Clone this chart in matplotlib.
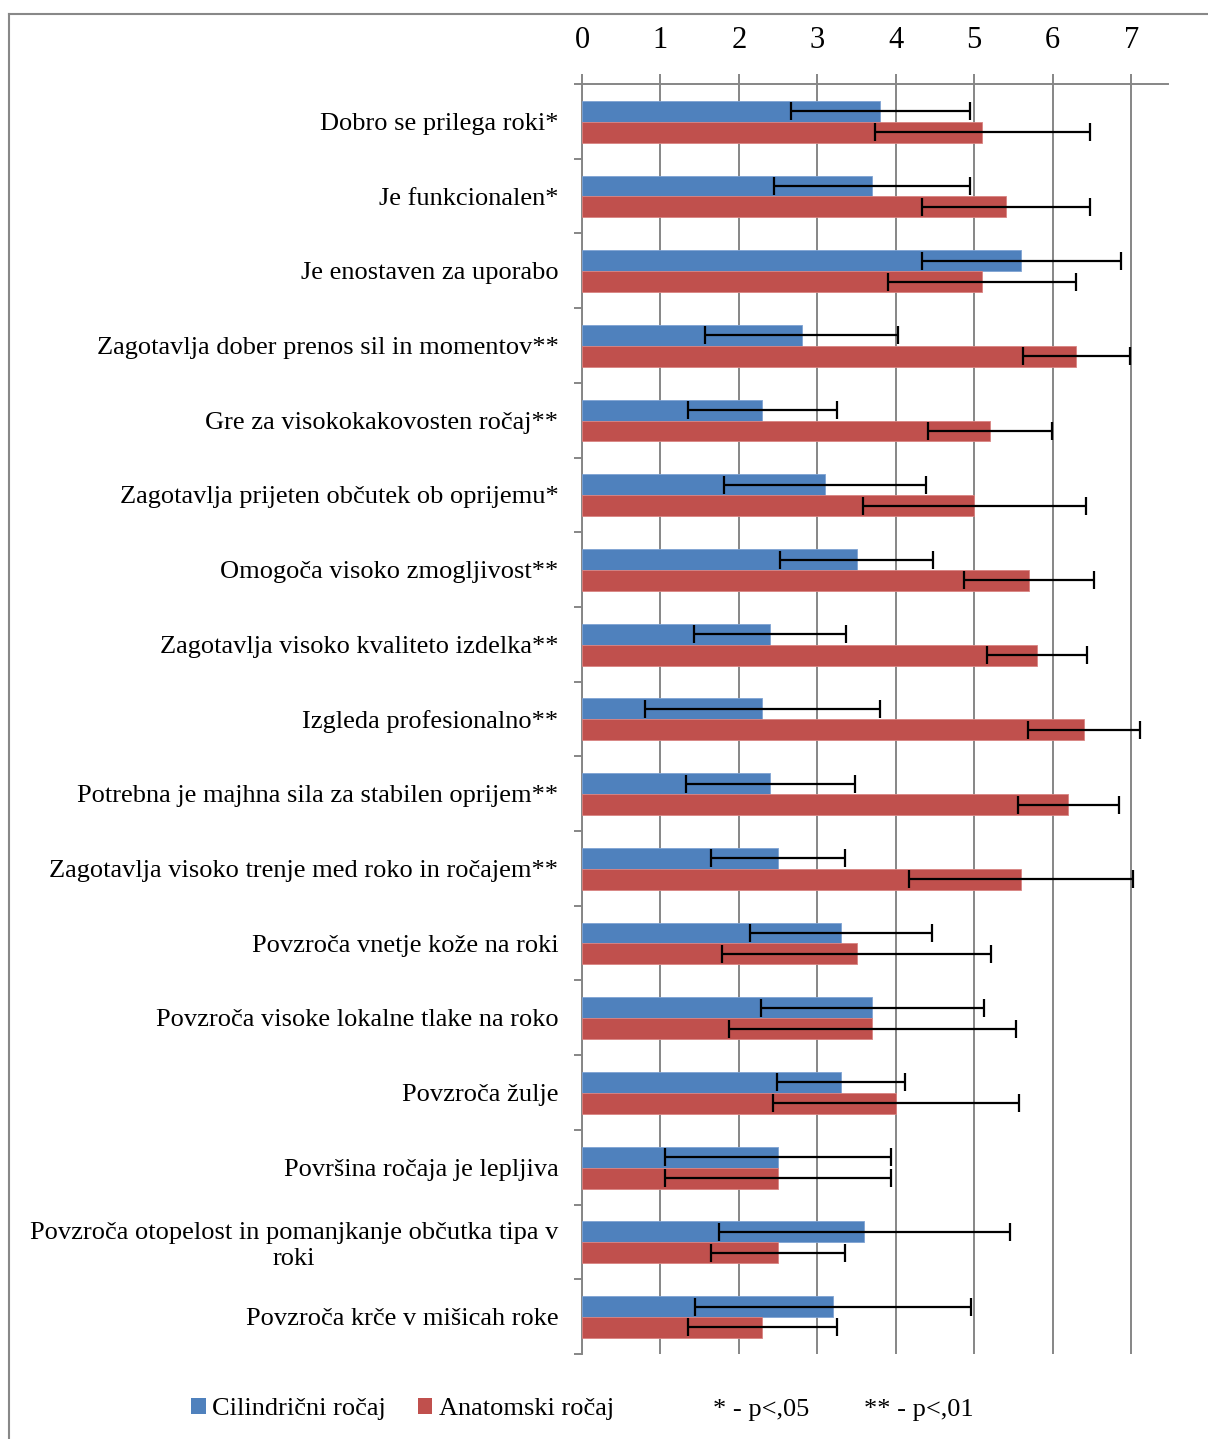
import matplotlib
matplotlib.use("Agg")
import matplotlib.pyplot as plt
from matplotlib.patches import Patch
from matplotlib.lines import Line2D
import numpy as np

plt.rcParams['font.family'] = ['Liberation Serif', 'DejaVu Serif']

categories = [
    "Dobro se prilega roki*",
    "Je funkcionalen*",
    "Je enostaven za uporabo",
    "Zagotavlja dober prenos sil in momentov**",
    "Gre za visokokakovosten ročaj**",
    "Zagotavlja prijeten občutek ob oprijemu*",
    "Omogoča visoko zmogljivost**",
    "Zagotavlja visoko kvaliteto izdelka**",
    "Izgleda profesionalno**",
    "Potrebna je majhna sila za stabilen oprijem**",
    "Zagotavlja visoko trenje med roko in ročajem**",
    "Povzroča vnetje kože na roki",
    "Povzroča visoke lokalne tlake na roko",
    "Povzroča žulje",
    "Površina ročaja je lepljiva",
    "Povzroča otopelost in pomanjkanje občutka tipa v\nroki",
    "Povzroča krče v mišicah roke",
]

cilindricni_mean = [3.8, 3.7, 5.6, 2.8, 2.3, 3.1, 3.5, 2.4, 2.3, 2.4, 2.5, 3.3, 3.7, 3.3, 2.5, 3.6, 3.2]
cilindricni_sd = [1.14, 1.25, 1.27, 1.23, 0.95, 1.29, 0.97, 0.97, 1.50, 1.08, 0.85, 1.16, 1.42, 0.82, 1.44, 1.85, 1.76]
anatomski_mean = [5.1, 5.4, 5.1, 6.3, 5.2, 5.0, 5.7, 5.8, 6.4, 6.2, 5.6, 3.5, 3.7, 4.0, 2.5, 2.5, 2.3]
anatomski_sd = [1.37, 1.07, 1.20, 0.68, 0.79, 1.42, 0.83, 0.64, 0.71, 0.64, 1.43, 1.72, 1.83, 1.57, 1.44, 0.85, 0.95]

series_names = ["Cilindrični ročaj", "Anatomski ročaj"]
significance_notes = ["* - p<,05", "** - p<,01"]
x_ticks = [0, 1, 2, 3, 4, 5, 6, 7]

BLUE = "#4F81BD"
RED = "#C0504D"
GRID = "#868686"

W, H = 1208, 1439
fig = plt.figure(figsize=(W / 100, H / 100), dpi=100)
ax = fig.add_axes([582 / W, 1 - 1354 / H, (1168 - 582) / W, (1354 - 84) / H])

y = np.arange(len(categories))
h = 0.28
yb = y - 0.135
yr = y + 0.145

ax.barh(yb, cilindricni_mean, height=h, color=BLUE, edgecolor="#7FA3D3", linewidth=0.6, zorder=3)
ax.barh(yr, anatomski_mean, height=h, color=RED, edgecolor="#D98482", linewidth=0.6, zorder=3)

err_kw = dict(fmt="none", ecolor="black", elinewidth=1.6, capsize=6.5, capthick=1.6, zorder=4)
ax.errorbar(cilindricni_mean, yb, xerr=cilindricni_sd, **err_kw)
ax.errorbar(anatomski_mean, yr, xerr=anatomski_sd, **err_kw)

ax.set_xlim(0, 7.47)
ax.set_ylim(len(categories) - 0.5, -0.5)

# x axis on top
ax.xaxis.set_ticks_position("top")
ax.xaxis.set_label_position("top")
ax.set_xticks(x_ticks)
ax.set_xticklabels([str(t) for t in x_ticks], fontsize=22)
ax.tick_params(axis="x", which="major", direction="out", length=7, width=1.4,
               color=GRID, pad=14)
ax.grid(axis="x", color=GRID, linewidth=1.4, zorder=0)

# y axis: labels at category centres, tick marks at boundaries
ax.set_yticks(y)
ax.set_yticklabels(categories, fontsize=19, multialignment="center")
ax.set_yticks(np.arange(-0.5, len(categories)), minor=True)
ax.tick_params(axis="y", which="major", length=0, pad=17)
ax.tick_params(axis="y", which="minor", direction="out", length=6, width=1.4, color=GRID)

for side in ["right", "bottom"]:
    ax.spines[side].set_visible(False)
for side in ["top", "left"]:
    ax.spines[side].set_color(GRID)
    ax.spines[side].set_linewidth(1.4)

# chart frame
fig.add_artist(Line2D([9 / W, 1], [1 - 14 / H, 1 - 14 / H], color="#888888", linewidth=1.5))
fig.add_artist(Line2D([9 / W, 9 / W], [0, 1 - 14 / H], color="#888888", linewidth=1.5))

# legend
handles = [Patch(facecolor=BLUE, edgecolor="none"), Patch(facecolor=RED, edgecolor="none")]
fig.legend(handles, series_names, loc="center left", bbox_to_anchor=(191 / W, 1 - 1409 / H),
           ncol=2, frameon=False, fontsize=19, handlelength=0.55, handleheight=0.55,
           handletextpad=0.25, columnspacing=1.2, borderaxespad=0, borderpad=0)
fig.text(713 / W, 1 - 1410 / H, significance_notes[0], fontsize=19, va="center", ha="left")
fig.text(864 / W, 1 - 1410 / H, significance_notes[1], fontsize=19, va="center", ha="left")

fig.savefig("out.png", dpi=100)
